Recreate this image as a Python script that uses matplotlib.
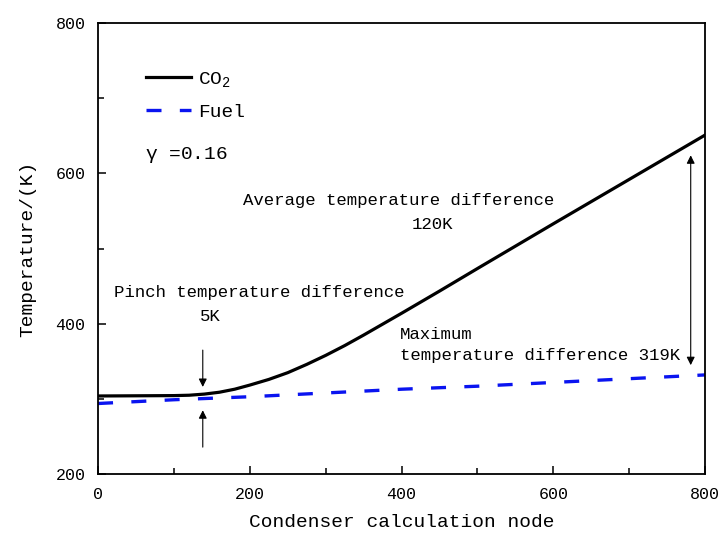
import numpy as np
import matplotlib
matplotlib.use('Agg')
import matplotlib.pyplot as plt
from matplotlib.ticker import MultipleLocator

plt.rcParams['font.family'] = ['Liberation Mono', 'DejaVu Sans']
plt.rcParams['mathtext.fontset'] = 'custom'
plt.rcParams['mathtext.rm'] = 'Liberation Mono'
plt.rcParams['mathtext.it'] = 'Liberation Mono'

# Temperatures along the condenser (node, K)
nos_co2 = [0, 100, 120, 140, 160, 180, 200, 225, 250, 275, 300, 325, 350, 375,
           400, 450, 500, 600, 700, 800]
temp_co2 = [304, 304.5, 305, 306.5, 309, 313, 318.5, 326, 335, 346, 358, 371,
            385, 399.5, 414, 443.5, 473.5, 533, 592, 651]

nos_fuel = [0, 100, 200, 300, 400, 500, 600, 700, 800]
temp_fuel = [294, 299, 303, 308, 313, 317, 322, 327, 332]

no_pinch = 138
gamma = 0.16

fig = plt.figure(figsize=(7.21, 5.34), dpi=100)
ax = fig.add_axes([0.136, 0.112, 0.842, 0.845])

ax.plot(nos_co2, temp_co2, color='black', lw=2.3, label=r'CO$_2$')
ax.plot(nos_fuel, temp_fuel, color='#0a14f0', lw=2.4, dashes=(4.5, 5.5),
        label='Fuel')

ax.set_xlim(0, 800)
ax.set_ylim(200, 800)
ax.xaxis.set_major_locator(MultipleLocator(200))
ax.xaxis.set_minor_locator(MultipleLocator(100))
ax.yaxis.set_major_locator(MultipleLocator(200))
ax.yaxis.set_minor_locator(MultipleLocator(100))
ax.tick_params(which='both', direction='in', top=False, right=False,
               width=1.1, labelsize=12, pad=9)
ax.tick_params(which='major', length=6)
ax.tick_params(which='minor', length=4)
for s in ax.spines.values():
    s.set_linewidth(1.3)

ax.set_xlabel('Condenser calculation node', fontsize=14, labelpad=9)
ax.set_ylabel('Temperature/(K)', fontsize=14, labelpad=14)

ax.legend(loc='upper left', bbox_to_anchor=(0.05, 0.935), frameon=False,
          fontsize=14, handlelength=2.3, handletextpad=0.4, labelspacing=0.75)

ax.text(62, 624, r'$\gamma$ =0.16', fontsize=14, va='center')

# Annotations
ax.text(21, 441, 'Pinch temperature difference', fontsize=12.5, va='center')
ax.text(148, 410, '5K', fontsize=12.5, va='center', ha='center')
ax.text(191, 564, 'Average temperature difference', fontsize=12.5, va='center')
ax.text(441, 532, '120K', fontsize=12.5, va='center', ha='center')
ax.text(398, 386, 'Maximum', fontsize=12.5, va='center')
ax.text(398, 358, 'temperature difference 319K', fontsize=12.5, va='center')

arrow_kw = dict(arrowstyle='-|>', color='black', lw=0.8,
                mutation_scale=12, shrinkA=0, shrinkB=0)
ax.annotate('', xy=(no_pinch, 316), xytext=(no_pinch, 365), arrowprops=arrow_kw)
ax.annotate('', xy=(no_pinch, 285), xytext=(no_pinch, 236), arrowprops=arrow_kw)
ax.annotate('', xy=(781, 624), xytext=(781, 345),
            arrowprops=dict(arrowstyle='<|-|>', color='black', lw=0.8,
                            mutation_scale=12, shrinkA=0, shrinkB=0))

fig.savefig('out.png', dpi=100)
